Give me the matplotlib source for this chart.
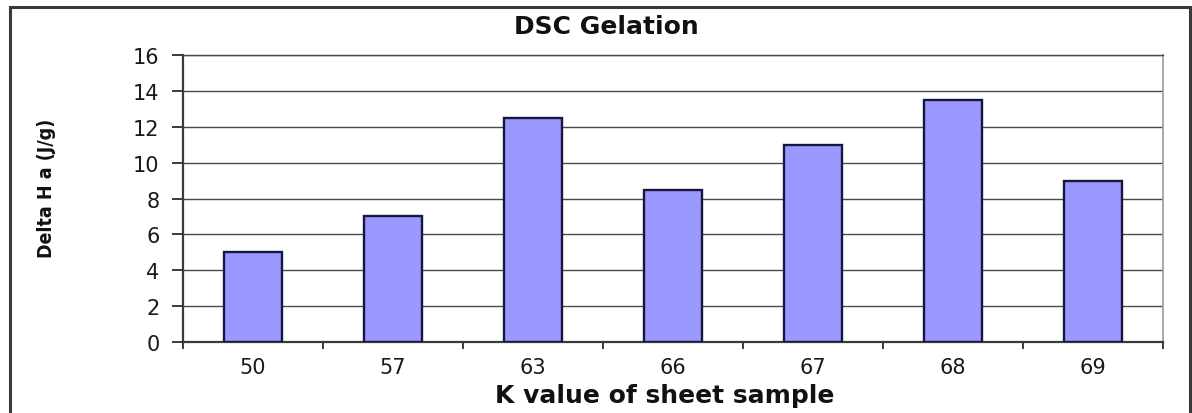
import matplotlib
matplotlib.use("Agg")
import matplotlib.pyplot as plt
from matplotlib.patches import Rectangle
from matplotlib.ticker import FixedLocator

# Data
k_values = ["50", "57", "63", "66", "67", "68", "69"]
delta_h = [5.0, 7.0, 12.5, 8.5, 11.0, 13.5, 9.0]
y_ticks = [0, 2, 4, 6, 8, 10, 12, 14, 16]

W, H = 1192, 414
fig = plt.figure(figsize=(W / 100, H / 100), dpi=100)
fig.patch.set_facecolor("white")

# Outer chart frame
frame = Rectangle((10 / W, -0.05), (1190 - 10) / W, (H - 8) / H + 0.05,
                  transform=fig.transFigure, fill=False,
                  edgecolor="#3a3a3a", linewidth=2.2, clip_on=False)
fig.patches.append(frame)

ax = fig.add_axes([183 / W, 1 - 343 / H, (1163 - 183) / W, (343 - 56) / H])

x = list(range(len(k_values)))
ax.bar(x, delta_h, width=0.41, color="#9999ff", edgecolor="#16163e",
       linewidth=1.7, zorder=3)

ax.set_xlim(-0.5, len(k_values) - 0.5)
ax.set_ylim(0, 16)
ax.set_yticks(y_ticks)
ax.set_yticklabels([str(v) for v in y_ticks])
ax.set_xticks(x)
ax.set_xticklabels(k_values)
ax.xaxis.set_minor_locator(FixedLocator([i + 0.5 for i in range(-1, len(k_values))]))

ax.yaxis.grid(True, color="#4a4a4a", linewidth=1.0, zorder=0)
ax.set_axisbelow(True)

for side in ("left", "bottom"):
    ax.spines[side].set_color("#3a3a3a")
    ax.spines[side].set_linewidth(1.6)
ax.spines["top"].set_color("#4a4a4a")
ax.spines["top"].set_linewidth(1.0)
ax.spines["right"].set_color("#9a9a9a")
ax.spines["right"].set_linewidth(1.2)

ax.tick_params(axis="y", direction="out", length=8, width=1.4, color="#3a3a3a",
               pad=9, labelsize=15, labelcolor="#1a1a1a")
ax.tick_params(axis="x", which="major", length=0, pad=11, labelsize=15,
               labelcolor="#1a1a1a")
ax.tick_params(axis="x", which="minor", direction="out", length=5, width=1.4,
               color="#3a3a3a")
for lbl in ax.get_xticklabels() + ax.get_yticklabels():
    lbl.set_fontfamily("DejaVu Sans")

fig.text(606 / W, 1 - 27 / H, "DSC Gelation", ha="center", va="center",
         fontsize=18, fontweight="bold", family="DejaVu Sans", color="#111111")
fig.text(665 / W, 1 - 396 / H, "K value of sheet sample", ha="center", va="center",
         fontsize=18, fontweight="bold", family="DejaVu Sans", color="#111111")
fig.text(46 / W, 1 - 188 / H, "Delta H a (J/g)", ha="center", va="center",
         rotation=90, fontsize=14, fontweight="bold", fontstretch="condensed",
         family="DejaVu Sans", color="#111111")

fig.savefig("out.png", dpi=100)
